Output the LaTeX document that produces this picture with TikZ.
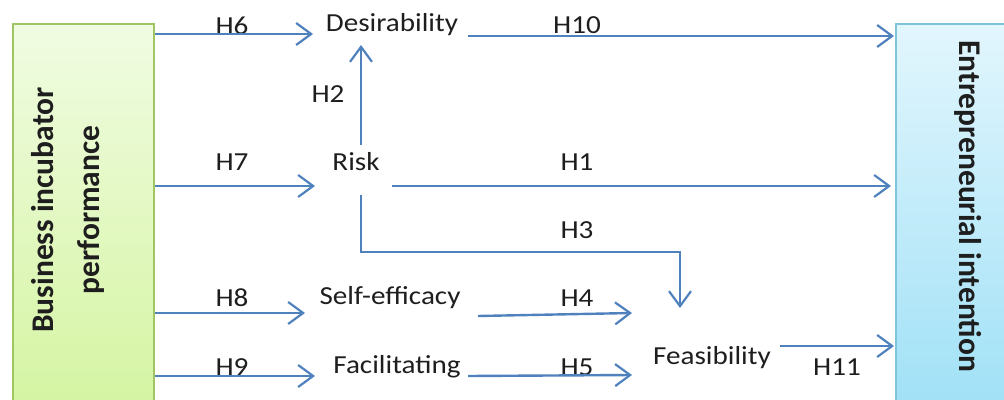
\documentclass[tikz,border=0pt]{standalone}
\usepackage{fontspec}
\setmainfont{Carlito}
\newfontfamily\hfont[FakeStretch=1.12]{Carlito}
\usetikzlibrary{arrows.meta}
\definecolor{arr}{RGB}{79,129,189}
\definecolor{txt}{RGB}{30,30,30}
\definecolor{gtop}{RGB}{240,252,226}
\definecolor{gbot}{RGB}{212,244,160}
\definecolor{gbrd}{RGB}{160,198,100}
\definecolor{btop}{RGB}{226,246,253}
\definecolor{bbot}{RGB}{158,224,246}
\definecolor{bbrd}{RGB}{128,196,220}
\begin{document}
\begin{tikzpicture}[x=1pt,y=-1pt,
  conn/.style={draw=arr, line width=2.4pt, -{Straight Barb[length=15pt,width=22pt,line width=2.2pt]}},
  lbl/.style={font=\hfont\fontsize{26}{30}\selectfont, text=txt, inner sep=0pt},
  vtxt/.style={font=\bfseries\fontsize{31.5}{46}\selectfont, text=txt, inner sep=0pt, align=center},
  bigbox/.style={line width=2pt, minimum height=396pt, inner sep=0pt}]
\useasboundingbox (0,0) rectangle (1004,399);
\clip (0,0) rectangle (1004,399);
% boxes
\node[bigbox, draw=gbrd, top color=gtop, bottom color=gbot, minimum width=141pt] (bip) at (83.5,222) {};
\node[bigbox, draw=bbrd, top color=btop, bottom color=bbot, minimum width=124pt] (ei) at (958,222) {};
\node[vtxt, rotate=90] (biptext) at (68,210) {Business incubator\\performance};
\node[vtxt, rotate=-90] (eitext) at (968,206) {Entrepreneurial intention};
% constructs
\node[lbl] (desir) at (392,25) {Desirability};
\node[lbl] (risk) at (356,162) {Risk};
\node[lbl] (self) at (390,298) {Self-efficacy};
\node[lbl] (facil) at (397,367) {Facilitating};
\node[lbl] (feas) at (712,358) {Feasibility};
% hypothesis labels
\node[lbl] (lh6) at (232,26) {H6};
\node[lbl] (lh7) at (232,162) {H7};
\node[lbl] (lh8) at (232,298) {H8};
\node[lbl] (lh9) at (232,367) {H9};
\node[lbl] (lh2) at (328,94) {H2};
\node[lbl] (lh10) at (577,25) {H10};
\node[lbl] (lh1) at (577,162) {H1};
\node[lbl] (lh3) at (577,230) {H3};
\node[lbl] (lh4) at (577,298) {H4};
\node[lbl] (lh5) at (577,367) {H5};
\node[lbl] (lh11) at (837,367) {H11};
% connector end points
\coordinate (h6e) at (313,34);
\coordinate (h7e) at (315,186);
\coordinate (h8e) at (305,313);
\coordinate (h9e) at (315,376);
\coordinate (h10s) at (468,36);
\coordinate (h1s) at (392,186);
\coordinate (h2s) at (361,145);
\coordinate (h2e) at (361,45);
\coordinate (h3s) at (361,195);
\coordinate (h3e) at (680,308);
\coordinate (h3k) at (680,252);
\coordinate (h4s) at (478,316);
\coordinate (h4e) at (632,313);
\coordinate (h5s) at (468,376);
\coordinate (h5e) at (632,375);
\coordinate (h11s) at (780,346);
% connectors
\draw[conn] (bip.east |- h6e) -- (h6e);
\draw[conn] (bip.east |- h7e) -- (h7e);
\draw[conn] (bip.east |- h8e) -- (h8e);
\draw[conn] (bip.east |- h9e) -- (h9e);
\draw[conn] (h10s) -- ([xshift=-1pt]ei.west |- h10s);
\draw[conn] (h1s) -- ([xshift=-4pt]ei.west |- h1s);
\draw[conn] (h2s) -- (h2e);
\draw[conn] (h3s) |- (h3k) -- (h3e);
\draw[conn] (h4s) -- (h4e);
\draw[conn] (h5s) -- (h5e);
\draw[conn] (h11s) -- ([xshift=-1pt]ei.west |- h11s);
\end{tikzpicture}
\end{document}
